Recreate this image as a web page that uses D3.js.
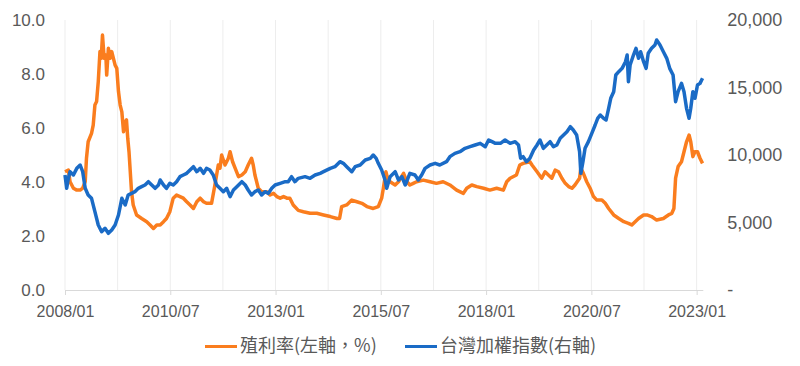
<!DOCTYPE html>
<html><head><meta charset="utf-8">
<script src="https://cdn.jsdelivr.net/npm/d3@7/dist/d3.min.js"></script>
<style>body{margin:0;background:#fff}svg{display:block}</style>
</head><body>
<svg id="chart" width="800" height="366"></svg>
<script>
// ---- data (decimal years) ----
const yieldDates = [2008.00,2008.08,2008.12,2008.20,2008.28,2008.36,2008.42,2008.48,2008.51,2008.55,2008.63,2008.67,2008.71,2008.75,2008.79,2008.83,2008.86,2008.89,2008.93,2008.97,2008.99,2009.03,2009.07,2009.11,2009.15,2009.19,2009.23,2009.27,2009.31,2009.35,2009.39,2009.43,2009.46,2009.49,2009.52,2009.54,2009.58,2009.62,2009.70,2009.82,2009.94,2010.02,2010.10,2010.18,2010.26,2010.34,2010.41,2010.49,2010.57,2010.65,2010.73,2010.81,2010.89,2010.97,2011.05,2011.13,2011.21,2011.29,2011.36,2011.48,2011.56,2011.64,2011.68,2011.72,2011.80,2011.88,2011.92,2011.98,2012.04,2012.12,2012.20,2012.28,2012.35,2012.43,2012.47,2012.51,2012.59,2012.67,2012.79,2012.87,2012.95,2013.03,2013.11,2013.19,2013.27,2013.34,2013.42,2013.54,2013.66,2013.82,2013.98,2014.14,2014.30,2014.46,2014.52,2014.57,2014.69,2014.81,2014.93,2015.05,2015.17,2015.32,2015.44,2015.52,2015.56,2015.62,2015.66,2015.72,2015.84,2015.92,2016.04,2016.12,2016.19,2016.27,2016.35,2016.51,2016.67,2016.82,2016.98,2017.14,2017.30,2017.46,2017.54,2017.66,2017.78,2017.94,2018.09,2018.25,2018.41,2018.49,2018.57,2018.72,2018.80,2018.88,2019.04,2019.09,2019.21,2019.32,2019.40,2019.48,2019.56,2019.64,2019.72,2019.80,2019.88,2019.96,2020.04,2020.11,2020.22,2020.25,2020.31,2020.39,2020.47,2020.55,2020.63,2020.75,2020.83,2020.91,2021.03,2021.15,2021.27,2021.38,2021.46,2021.54,2021.62,2021.74,2021.82,2021.93,2022.05,2022.21,2022.33,2022.41,2022.46,2022.50,2022.56,2022.64,2022.70,2022.76,2022.82,2022.86,2022.91,2022.96,2023.02,2023.08,2023.14];
const yieldValues = [4.38,4.44,4.01,3.77,3.70,3.70,3.77,4.01,4.88,5.49,5.80,6.11,6.85,6.98,7.72,8.83,8.58,9.44,8.58,8.70,7.96,8.95,8.58,8.83,8.58,8.33,8.21,7.35,6.85,6.60,5.86,6.23,6.30,5.62,5.12,4.63,3.64,3.15,2.78,2.65,2.53,2.41,2.28,2.41,2.41,2.53,2.65,2.90,3.40,3.52,3.46,3.40,3.27,3.15,3.02,3.27,3.40,3.27,3.21,3.21,3.89,4.63,4.51,5.00,4.63,4.88,5.12,4.75,4.51,4.20,4.26,4.38,4.63,4.88,4.63,4.26,3.77,3.64,3.64,3.52,3.58,3.46,3.40,3.46,3.40,3.40,3.15,2.95,2.90,2.84,2.84,2.78,2.72,2.65,2.65,3.09,3.15,3.33,3.27,3.21,3.09,3.02,3.09,3.40,3.77,4.38,4.14,4.01,3.89,4.01,4.32,4.01,3.89,3.95,4.01,4.07,4.01,3.95,4.01,3.89,3.70,3.58,3.77,3.89,3.83,3.77,3.70,3.77,3.70,4.01,4.14,4.26,4.63,4.69,4.75,4.63,4.38,4.14,4.38,4.26,4.14,4.44,4.38,4.14,3.95,3.83,3.77,3.89,4.14,4.51,4.32,4.01,3.77,3.46,3.33,3.33,3.21,3.02,2.78,2.65,2.53,2.47,2.41,2.53,2.65,2.78,2.78,2.72,2.59,2.65,2.78,2.84,3.02,4.14,4.57,4.75,5.12,5.49,5.74,5.49,4.94,5.12,5.12,4.88,4.69];

const indexDates = [2008.00,2008.04,2008.08,2008.12,2008.20,2008.28,2008.36,2008.42,2008.48,2008.55,2008.63,2008.71,2008.79,2008.87,2008.95,2009.03,2009.11,2009.19,2009.27,2009.35,2009.43,2009.50,2009.58,2009.66,2009.74,2009.82,2009.90,2009.98,2010.06,2010.14,2010.22,2010.26,2010.34,2010.41,2010.49,2010.57,2010.65,2010.73,2010.81,2010.89,2010.97,2011.05,2011.13,2011.21,2011.29,2011.36,2011.44,2011.52,2011.60,2011.68,2011.76,2011.84,2011.92,2012.00,2012.08,2012.20,2012.28,2012.35,2012.43,2012.51,2012.59,2012.67,2012.75,2012.83,2012.91,2012.99,2013.11,2013.23,2013.30,2013.38,2013.46,2013.54,2013.70,2013.82,2013.94,2014.06,2014.14,2014.30,2014.41,2014.53,2014.61,2014.69,2014.81,2014.89,2015.01,2015.13,2015.25,2015.32,2015.39,2015.44,2015.52,2015.60,2015.64,2015.72,2015.84,2015.92,2016.00,2016.08,2016.19,2016.31,2016.39,2016.47,2016.55,2016.67,2016.79,2016.90,2017.06,2017.14,2017.26,2017.38,2017.50,2017.62,2017.74,2017.86,2017.98,2018.06,2018.14,2018.22,2018.34,2018.45,2018.57,2018.69,2018.77,2018.82,2018.88,2018.96,2019.04,2019.13,2019.21,2019.28,2019.36,2019.44,2019.52,2019.60,2019.68,2019.76,2019.84,2019.92,2020.00,2020.07,2020.15,2020.22,2020.25,2020.30,2020.35,2020.43,2020.51,2020.59,2020.65,2020.71,2020.79,2020.85,2020.91,2020.96,2021.03,2021.08,2021.15,2021.23,2021.31,2021.35,2021.38,2021.42,2021.50,2021.56,2021.62,2021.67,2021.74,2021.80,2021.85,2021.93,2022.01,2022.05,2022.13,2022.21,2022.29,2022.36,2022.44,2022.50,2022.56,2022.64,2022.70,2022.76,2022.82,2022.86,2022.91,2022.96,2023.02,2023.08,2023.14];
const indexValues = [8518,7531,8272,8765,8518,9012,9259,8765,7531,7037,6790,5802,4815,4321,4568,4197,4444,4815,5555,6790,6296,7037,7160,7284,7531,7654,7778,8025,7778,7531,7778,8148,7778,7531,7901,7778,8025,8395,8518,8642,8889,9136,8765,9012,8642,9012,8889,8518,7778,7531,7284,7531,6913,7407,7654,8025,7778,7407,7037,7284,7407,7037,7284,7160,7531,7778,7901,8025,8025,8395,8025,8272,8395,8272,8518,8642,8765,9012,9136,9506,9383,9136,8765,9136,9259,9630,9753,10000,9753,9383,8889,8148,7531,8395,8765,8148,8395,7778,8642,8518,8148,8518,9012,9259,9383,9259,9506,9877,10123,10247,10494,10617,10741,10864,10617,11111,10988,10864,10864,11111,10864,10988,10741,9753,9877,9506,9753,10370,10741,11111,10494,10741,10988,10617,10741,11235,11481,11728,12099,11852,11481,10247,8642,9506,10494,10988,11605,12222,12716,12963,12716,12593,13457,14198,14691,15926,16173,16419,16913,17407,15432,16667,17407,17901,17160,17654,16913,16419,17531,17901,18148,18518,18148,17654,17160,16419,15926,13951,14691,15308,14691,13457,12716,13457,14691,14198,15185,15308,15679];

const xTickValues = [2008, 2010.5, 2013, 2015.5, 2018, 2020.5, 2023];
const xTickLabels = ["2008/01","2010/07","2013/01","2015/07","2018/01","2020/07","2023/01"];
const leftTicks = [0, 2, 4, 6, 8, 10];
const rightTicks = [0, 5000, 10000, 15000, 20000];
const seriesNames = ["殖利率(左軸，%)", "台灣加權指數(右軸)"];
const seriesColors = ["#FA7D1E", "#1A6BC6"];

// ---- layout ----
const svg = d3.select("#chart");
const L = 65, R = 703.3, T = 20, B = 290;
const x = d3.scaleLinear().domain([2008, 2023.158]).range([L, R]);
const yL = d3.scaleLinear().domain([0, 10]).range([B, T]);
const yR = d3.scaleLinear().domain([0, 20000]).range([B, T]);
const textColor = "#595959";
const numFont = "'Liberation Sans', Arial, sans-serif";

// vertical gridlines every 15 months
const gridVals = d3.range(0, 13).map(i => 2008 + i * 1.25);
svg.append("g").selectAll("line").data(gridVals).join("line")
  .attr("x1", d => x(d)).attr("x2", d => x(d))
  .attr("y1", T).attr("y2", B)
  .attr("stroke", "#EDEDED").attr("stroke-width", 1);

// x axis
const xAxis = svg.append("g").attr("transform", `translate(0,${B})`)
  .call(d3.axisBottom(x).tickValues(xTickValues).tickSize(5).tickPadding(11)
    .tickFormat((d, i) => xTickLabels[i]));
xAxis.select(".domain").attr("stroke", "#D9D9D9").attr("d", `M${L},0.5H${R}`);
xAxis.selectAll(".tick line").attr("stroke", "#D9D9D9");
xAxis.selectAll("text").attr("fill", textColor).attr("font-size", 16).attr("font-family", numFont);

// left axis
const yAxisL = svg.append("g").attr("transform", `translate(${L},0)`)
  .call(d3.axisLeft(yL).tickValues(leftTicks).tickSize(0).tickPadding(20).tickFormat(d3.format(".1f")));
yAxisL.select(".domain").remove();
yAxisL.selectAll("text").attr("fill", textColor).attr("font-size", 17).attr("font-family", numFont);

// right axis
const yAxisR = svg.append("g").attr("transform", `translate(${R},0)`)
  .call(d3.axisRight(yR).tickValues(rightTicks).tickSize(0).tickPadding(24)
    .tickFormat(d => d === 0 ? "-" : d3.format(",")(d)));
yAxisR.select(".domain").remove();
yAxisR.selectAll("text").attr("fill", textColor).attr("font-size", 18).attr("font-family", numFont);

// lines
const yieldData = yieldDates.map((d, i) => [d, yieldValues[i]]);
const indexData = indexDates.map((d, i) => [d, indexValues[i]]);
svg.append("path").datum(yieldData)
  .attr("fill", "none").attr("stroke", seriesColors[0]).attr("stroke-width", 3.5).attr("stroke-linejoin", "round")
  .attr("d", d3.line().x(d => x(d[0])).y(d => yL(d[1])));
svg.append("path").datum(indexData)
  .attr("fill", "none").attr("stroke", seriesColors[1]).attr("stroke-width", 3.5).attr("stroke-linejoin", "round")
  .attr("d", d3.line().x(d => x(d[0])).y(d => yR(d[1])));

// legend
const legendItems = [{x: 205}, {x: 405}];
const lg = svg.append("g");
legendItems.forEach((it, i) => {
  lg.append("line").attr("x1", it.x).attr("x2", it.x + 32).attr("y1", 346.5).attr("y2", 346.5)
    .attr("stroke", seriesColors[i]).attr("stroke-width", 3);
  lg.append("text").attr("x", it.x + 35).attr("y", 347).attr("dominant-baseline", "middle")
    .attr("fill", textColor).attr("font-size", 18)
    .attr("font-family", "'Noto Sans CJK TC', 'Noto Sans CJK SC', sans-serif")
    .text(seriesNames[i]);
});
</script>
</body></html>
